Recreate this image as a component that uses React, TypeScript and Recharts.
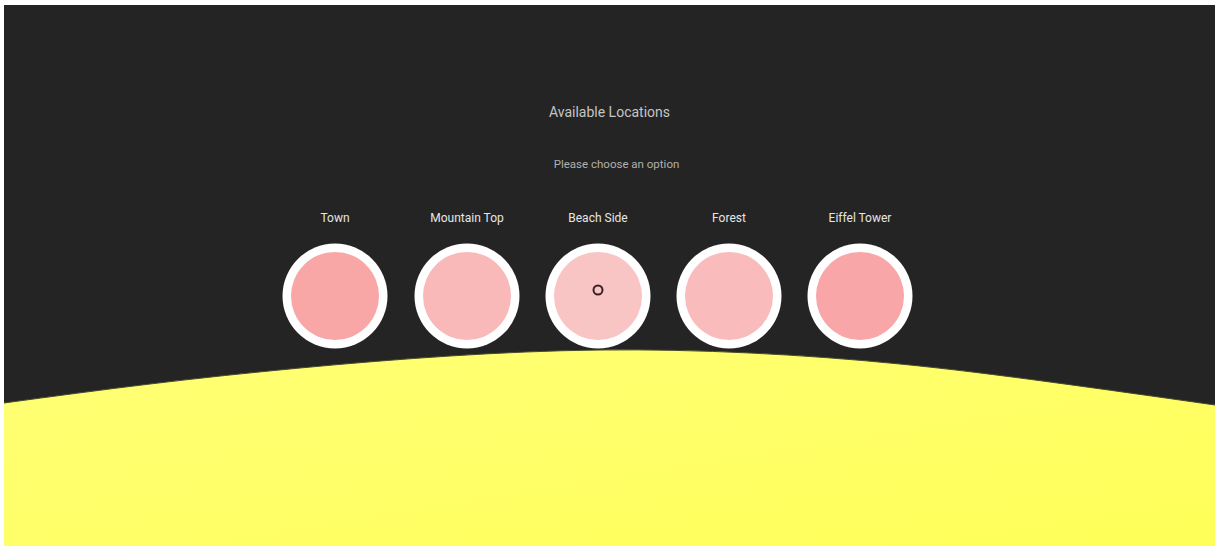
import { ComposedChart, Area, Scatter, XAxis, YAxis } from 'recharts'

// page is 1215x546, the scene starts at (4,5); axis values are page pixels,
// y measured up from the bottom edge (546)
const W = 1211
const H = 541
const BG = '#242424'

// ── Data ────────────────────────────────────────────────────────────────────
const locations = ['Town', 'Mountain Top', 'Beach Side', 'Forest', 'Eiffel Tower']
const locationX = [335, 467, 598, 729, 860]
const locationY = [250, 250, 250, 250, 250]
const locationFill = ['#f9a6a7', '#f9b9b9', '#f9c4c4', '#f9bbbb', '#f8a6a8']

const groundX = [4, 150, 300, 450, 600, 750, 900, 1050, 1215]
const groundY = [143, 162, 178, 190, 196, 193, 182, 164, 141]

const cursorX = [598]
const cursorY = [256]

const groundData = groundX.map((x, i) => ({ x, y: groundY[i] }))
const locationData = locations.map((name, i) => ({
  name,
  x: locationX[i],
  y: locationY[i],
  fill: locationFill[i],
}))
const cursorData = cursorX.map((x, i) => ({ x, y: cursorY[i] }))

function LocationShape(props: any) {
  const { cx, cy, payload } = props
  return (
    <g>
      <circle cx={cx} cy={cy} r={52.5} fill="#ffffff" />
      <circle cx={cx} cy={cy} r={44} fill={payload.fill} />
      <text
        x={cx}
        y={cy - 78}
        textAnchor="middle"
        dominantBaseline="central"
        fontFamily="Roboto, sans-serif"
        fontSize={12}
        fill="#e6e6e6"
      >
        {payload.name}
      </text>
    </g>
  )
}

function CursorShape(props: any) {
  const { cx, cy } = props
  return <circle cx={cx} cy={cy} r={4.5} fill="#f9c4c4" stroke="#3a2224" strokeWidth={2} />
}

export default function App() {
  return (
    <div style={{ position: 'absolute', left: 4, top: 5, width: W, height: H, background: BG, overflow: 'hidden' }}>
      <ComposedChart width={W} height={H} margin={{ top: 0, right: 0, bottom: 0, left: 0 }}>
        <defs>
          <linearGradient id="groundGrad" x1="0" y1="0" x2="1" y2="1">
            <stop offset="0%" stopColor="#ffff76" />
            <stop offset="45%" stopColor="#ffff6a" />
            <stop offset="100%" stopColor="#ffff58" />
          </linearGradient>
        </defs>
        <XAxis type="number" dataKey="x" domain={[4, 1215]} hide allowDataOverflow />
        <YAxis type="number" domain={[0, H]} hide allowDataOverflow />
        <Area
          data={groundData}
          dataKey="y"
          type="natural"
          fill="url(#groundGrad)"
          fillOpacity={1}
          stroke="#4a4a2a"
          strokeWidth={1}
          isAnimationActive={false}
        />
        <Scatter data={locationData} dataKey="y" shape={<LocationShape />} isAnimationActive={false} />
        <Scatter data={cursorData} dataKey="y" shape={<CursorShape />} isAnimationActive={false} />
      </ComposedChart>
      <div
        style={{
          position: 'absolute', left: 0, width: W, top: 97, textAlign: 'center',
          fontFamily: 'Roboto, sans-serif', fontSize: 14, color: '#c4c4c4',
          paddingLeft: 0, boxSizing: 'border-box', lineHeight: '20px',
        }}
      >
        Available Locations
      </div>
      <div
        style={{
          position: 'absolute', left: 0, width: W, top: 150, textAlign: 'center',
          fontFamily: 'Roboto, sans-serif', fontSize: 11.5, color: '#b0b0b0',
          paddingLeft: 14, boxSizing: 'border-box', lineHeight: '18px',
        }}
      >
        Please choose an option
      </div>
    </div>
  )
}
